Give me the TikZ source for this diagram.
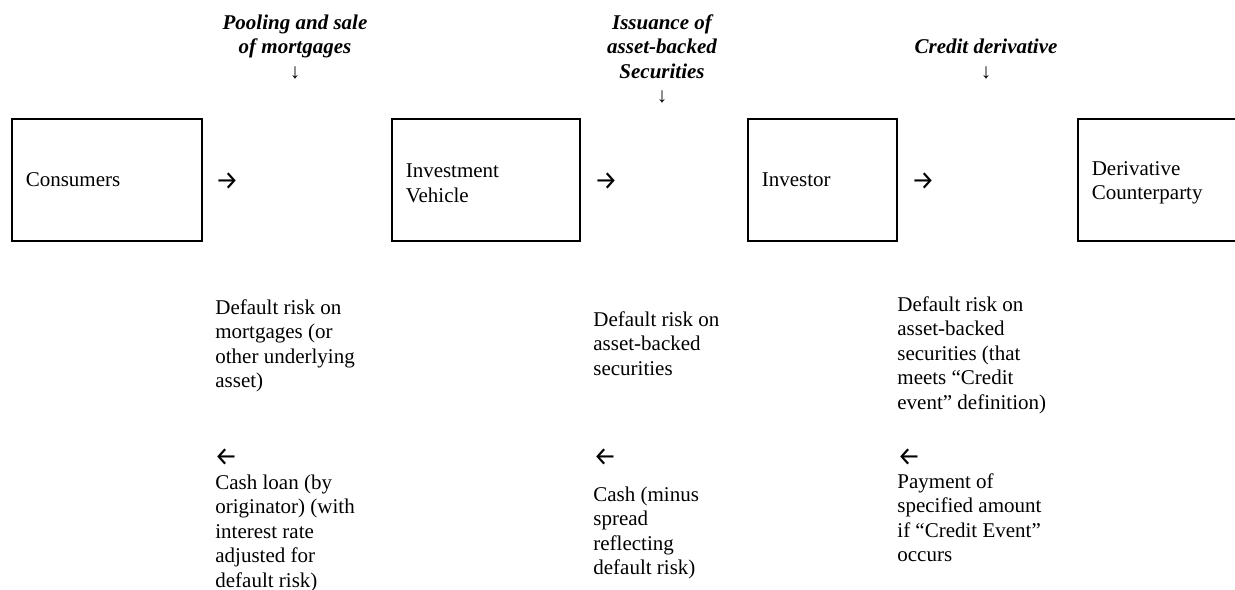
\documentclass[tikz,border=0pt]{standalone}
\usepackage{fontspec}
\setmainfont{Liberation Serif}
\newfontfamily\arrowfont{Fira Sans}
\begin{document}
\begin{tikzpicture}[x=0.5pt,y=-0.5pt,
    every node/.style={font=\fontsize{10.5}{12.25}\selectfont, inner sep=0pt},
    party/.style={draw, line width=0.75pt, minimum height=61pt, align=left,
        inner xsep=7pt, anchor=west},
    step note/.style={align=center, anchor=base, font=\fontsize{10.5}{12.25}\selectfont\bfseries\itshape},
    flow/.style={align=left, anchor=base west},
    sign/.style={anchor=west, font=\fontsize{13}{14}\arrowfont}]
    \useasboundingbox (0,0) rectangle (1235,589);
    % Parties
    \node[party, minimum width=95pt, text width=81pt] (cons) at (11,180) {Consumers};
    \node[party, minimum width=94pt, text width=80pt] (vehicle) at (391,180) {\rule{0pt}{10pt}Investment\\Vehicle};
    \node[party, minimum width=74.5pt, text width=60.5pt] (investor) at (747,180) {Investor};
    \node[party, minimum width=86.5pt, text width=72.5pt] (counterparty) at (1077,180) {\rule{0pt}{10pt}Derivative\\Counterparty};
    % Transactions
    \node[step note] (pooling) at (295,78) {Pooling and sale\\of mortgages\\{\normalfont\mdseries ↓}};
    \node[step note] (issuance) at (662,102.5) {Issuance of\\asset-backed\\Securities\\{\normalfont\mdseries ↓}};
    \node[step note] (credit) at (986,78) {Credit derivative\\{\normalfont\mdseries ↓}};
    % Arrows
    \node[sign] (fwdA) at (215,181) {→};
    \node[sign] (fwdB) at (594,181) {→};
    \node[sign] (fwdC) at (911,181) {→};
    \node[sign] (backA) at (214,457) {←};
    \node[sign] (backB) at (593,457) {←};
    \node[sign] (backC) at (897,457) {←};
    % Risk transferred
    \node[flow] (riskA) at (215,387.5) {Default risk on\\mortgages (or\\other underlying\\asset)};
    \node[flow] (riskB) at (593,375) {Default risk on\\asset-backed\\securities};
    \node[flow] (riskC) at (897,409) {Default risk on\\asset-backed\\securities (that\\meets “Credit\\event” definition)};
    % Cash paid
    \node[flow] (cashA) at (215,587) {Cash loan (by\\originator) (with\\interest rate\\adjusted for\\default risk)};
    \node[flow] (cashB) at (593,574.5) {Cash (minus\\spread\\reflecting\\default risk)};
    \node[flow] (cashC) at (897,561.5) {Payment of\\specified amount\\if “Credit Event”\\occurs};
\end{tikzpicture}
\end{document}
